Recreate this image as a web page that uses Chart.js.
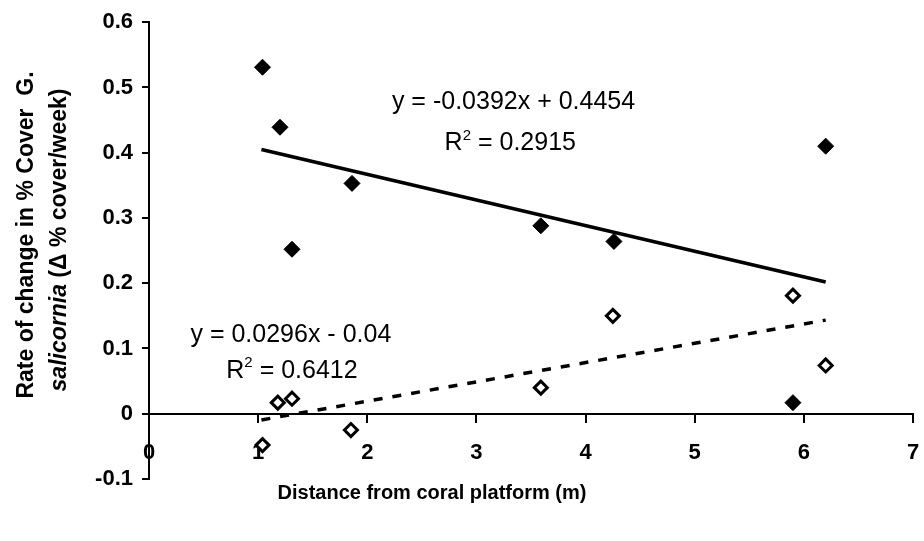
<!DOCTYPE html>
<html>
<head>
<meta charset="utf-8">
<script src="https://cdn.jsdelivr.net/npm/chart.js@4"></script>
<style>
  html, body { margin: 0; padding: 0; background: #fff; }
  #wrap { width: 924px; height: 541px; }
</style>
</head>
<body>
<div id="wrap"><canvas id="grafico" width="924" height="541"></canvas></div>
<script>
// Datos
const distanciaLlenos = [1.04, 1.20, 1.31, 1.86, 3.59, 4.26, 5.90, 6.20];
const tasaLlenos = [0.531, 0.439, 0.252, 0.353, 0.288, 0.264, 0.017, 0.410];

const distanciaHuecos = [1.04, 1.18, 1.31, 1.85, 3.59, 4.25, 5.90, 6.20];
const tasaHuecos = [-0.048, 0.017, 0.023, -0.025, 0.040, 0.150, 0.181, 0.074];

// Extremos de las líneas de tendencia
const tendenciaX = [1.03, 6.20];
const tendenciaLlenosY = [0.405, 0.202];
const tendenciaHuecosY = [-0.0095, 0.1435];

const ticksY = [-0.1, 0, 0.1, 0.2, 0.3, 0.4, 0.5, 0.6];
const ticksX = [0, 1, 2, 3, 4, 5, 6, 7];

const ecuaciones = [
    {texto: "y = -0.0392x + 0.4454", x: 3.34, y: 0.477},
    {texto: "R", sup: "2", resto: " = 0.2915", x: 3.31, y: 0.414},
    {texto: "y = 0.0296x - 0.04", x: 1.30, y: 0.120},
    {texto: "R", sup: "2", resto: " = 0.6412", x: 1.31, y: 0.066}
];

const FUENTE = "'Liberation Sans', Arial, Helvetica, sans-serif";

function aPuntos(xs, ys) {
    return xs.map((x, i) => ({x: x, y: ys[i]}));
}

// Textos sobre el área del gráfico
const textosPlugin = {
    id: "textos",
    afterDraw(chart) {
        const ctx = chart.ctx;
        const sx = chart.scales.x;
        const sy = chart.scales.y;
        ctx.save();
        ctx.fillStyle = "#000";
        ctx.textBaseline = "middle";

        ecuaciones.forEach(e => {
            const px = sx.getPixelForValue(e.x);
            const py = sy.getPixelForValue(e.y);
            ctx.font = "25px " + FUENTE;
            if (!e.sup) {
                ctx.textAlign = "center";
                ctx.fillText(e.texto, px, py);
                return;
            }
            const w1 = ctx.measureText(e.texto).width;
            const w3 = ctx.measureText(e.resto).width;
            ctx.font = "15px " + FUENTE;
            const w2 = ctx.measureText(e.sup).width;
            const x0 = px - (w1 + w2 + w3) / 2;
            ctx.textAlign = "left";
            ctx.font = "25px " + FUENTE;
            ctx.fillText(e.texto, x0, py);
            ctx.font = "15px " + FUENTE;
            ctx.fillText(e.sup, x0 + w1, py - 8);
            ctx.font = "25px " + FUENTE;
            ctx.fillText(e.resto, x0 + w1 + w2, py);
        });

        // Título del eje Y en dos líneas
        ctx.save();
        ctx.translate(27, 235);
        ctx.rotate(-Math.PI / 2);
        ctx.textAlign = "center";
        ctx.font = "bold 23px " + FUENTE;
        ctx.fillText("Rate of change in % Cover  G.", 0, 0);
        ctx.restore();

        ctx.save();
        ctx.translate(60, 240);
        ctx.rotate(-Math.PI / 2);
        ctx.textAlign = "left";
        const parte1 = "salicornia";
        const parte2 = " (\u0394 % cover/week)";
        ctx.font = "italic bold 23px " + FUENTE;
        const a1 = ctx.measureText(parte1).width;
        ctx.font = "bold 23px " + FUENTE;
        const a2 = ctx.measureText(parte2).width;
        const inicio = -(a1 + a2) / 2;
        ctx.font = "italic bold 23px " + FUENTE;
        ctx.fillText(parte1, inicio, 0);
        ctx.font = "bold 23px " + FUENTE;
        ctx.fillText(parte2, inicio + a1, 0);
        ctx.restore();

        // Título del eje X
        ctx.textAlign = "center";
        ctx.font = "bold 20px " + FUENTE;
        ctx.fillText("Distance from coral platform (m)", 432, 493);

        ctx.restore();
    }
};

new Chart(
    document.getElementById("grafico"),
    {
        type: "scatter",
        data: {
            datasets: [
                {
                    label: "Tendencia llenos",
                    data: aPuntos(tendenciaX, tendenciaLlenosY),
                    showLine: true,
                    borderColor: "#000",
                    borderWidth: 3.5,
                    pointRadius: 0
                },
                {
                    label: "Tendencia huecos",
                    data: aPuntos(tendenciaX, tendenciaHuecosY),
                    showLine: true,
                    borderColor: "#000",
                    borderWidth: 3.5,
                    borderDash: [9, 10],
                    pointRadius: 0
                },
                {
                    label: "Llenos",
                    data: aPuntos(distanciaLlenos, tasaLlenos),
                    pointStyle: "rectRot",
                    pointRadius: 8,
                    backgroundColor: "#000",
                    borderColor: "#000",
                    borderWidth: 1
                },
                {
                    label: "Huecos",
                    data: aPuntos(distanciaHuecos, tasaHuecos),
                    pointStyle: "rectRot",
                    pointRadius: 6.5,
                    backgroundColor: "#fff",
                    borderColor: "#000",
                    borderWidth: 3
                }
            ]
        },
        options: {
            responsive: false,
            animation: false,
            devicePixelRatio: 1,
            layout: {autoPadding: false, padding: {left: 0, top: 22, right: 11, bottom: 62}},
            plugins: {legend: {display: false}, tooltip: {enabled: false}},
            scales: {
                x: {
                    type: "linear",
                    position: {y: 0},
                    min: 0,
                    max: 7,
                    afterBuildTicks: s => { s.ticks = ticksX.map(v => ({value: v})); },
                    afterFit: s => { s.paddingLeft = 0; s.paddingRight = 0; },
                    border: {color: "#000", width: 2},
                    grid: {display: true, drawOnChartArea: false, tickLength: 8, color: "#000", lineWidth: 2},
                    ticks: {
                        color: "#000",
                        padding: 18,
                        maxRotation: 0,
                        font: {family: FUENTE, size: 22, weight: "bold"},
                        callback: v => String(v)
                    }
                },
                y: {
                    type: "linear",
                    min: -0.1,
                    max: 0.6,
                    afterBuildTicks: s => { s.ticks = ticksY.map(v => ({value: v})); },
                    afterFit: s => { s.width = 149; },
                    border: {color: "#000", width: 2},
                    grid: {display: true, drawOnChartArea: false, tickLength: 7, color: "#000", lineWidth: 2},
                    ticks: {
                        color: "#000",
                        padding: 9,
                        font: {family: FUENTE, size: 22, weight: "bold"},
                        callback: v => String(Math.round(v * 10) / 10)
                    }
                }
            }
        },
        plugins: [textosPlugin]
    }
);
</script>
</body>
</html>
